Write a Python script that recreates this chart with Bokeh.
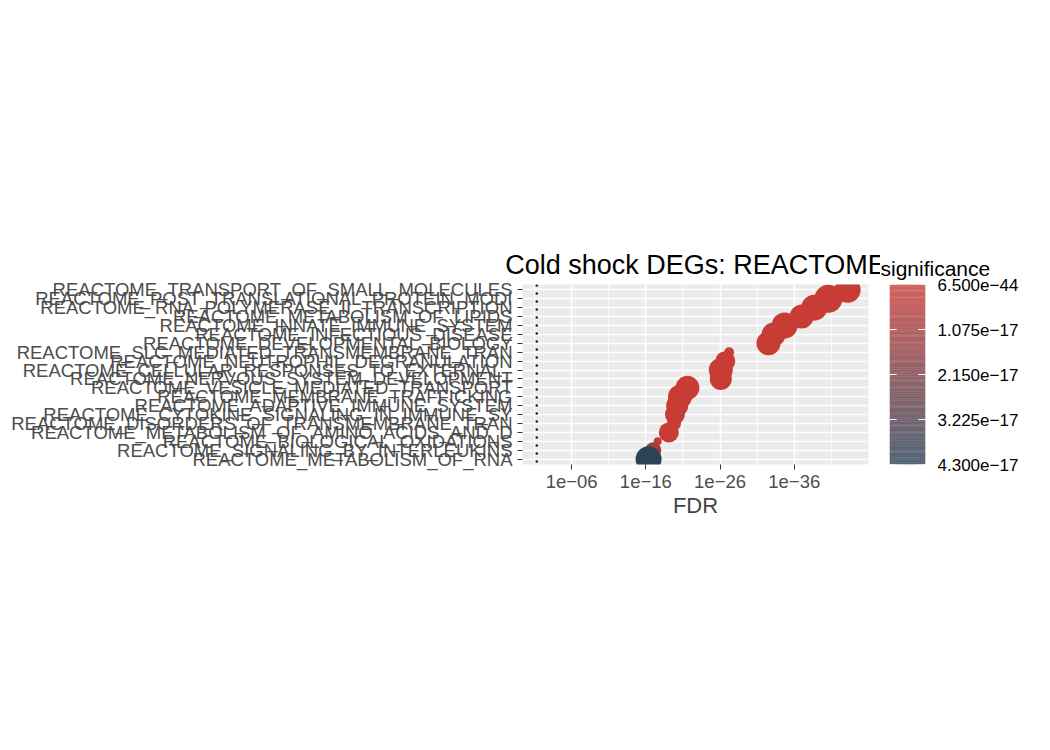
from bokeh.plotting import figure
from bokeh.models import (ColumnDataSource, Range1d, FixedTicker, Span, CustomJSTickFormatter)
from bokeh.layouts import row
from bokeh.transform import linear_cmap
from bokeh.embed import file_html
from bokeh.resources import INLINE
import math

# Data (top to bottom as in the chart)
pathways = [
    "REACTOME_TRANSPORT_OF_SMALL_MOLECULES",
    "REACTOME_POST_TRANSLATIONAL_PROTEIN_MODI",
    "REACTOME_RNA_POLYMERASE_II_TRANSCRIPTION",
    "REACTOME_METABOLISM_OF_LIPIDS",
    "REACTOME_INNATE_IMMUNE_SYSTEM",
    "REACTOME_INFECTIOUS_DISEASE",
    "REACTOME_DEVELOPMENTAL_BIOLOGY",
    "REACTOME_SLC_MEDIATED_TRANSMEMBRANE_TRAN",
    "REACTOME_NEUTROPHIL_DEGRANULATION",
    "REACTOME_CELLULAR_RESPONSES_TO_EXTERNAL_",
    "REACTOME_NERVOUS_SYSTEM_DEVELOPMENT",
    "REACTOME_VESICLE_MEDIATED_TRANSPORT",
    "REACTOME_MEMBRANE_TRAFFICKING",
    "REACTOME_ADAPTIVE_IMMUNE_SYSTEM",
    "REACTOME_CYTOKINE_SIGNALING_IN_IMMUNE_SY",
    "REACTOME_DISORDERS_OF_TRANSMEMBRANE_TRAN",
    "REACTOME_METABOLISM_OF_AMINO_ACIDS_AND_D",
    "REACTOME_BIOLOGICAL_OXIDATIONS",
    "REACTOME_SIGNALING_BY_INTERLEUKINS",
    "REACTOME_METABOLISM_OF_RNA",
]
fdr = [6.5e-44, 2.5e-41, 2e-39, 1e-37, 2e-35, 6e-34, 3e-33, 6e-28, 2e-27, 8e-27,
       8e-27, 2.5e-22, 2.5e-21, 6e-21, 1.2e-20, 1.6e-20, 8e-20, 2.5e-18, 1e-17, 4.3e-17]
gene_size = [26, 28, 26, 24, 26, 24, 24, 10, 20, 24, 22, 24, 24, 22, 20, 14, 20, 8, 16, 26]

x_ticks = [6, 16, 26, 36]
x_labels = ["1e\u221206", "1e\u221216", "1e\u221226", "1e\u221236"]
cb_ticks = [6.5e-44, 1.075e-17, 2.15e-17, 3.225e-17, 4.3e-17]
sig_low, sig_high = 6.5e-44, 4.3e-17

n = len(pathways)
ys = [n - i for i in range(n)]
xs = [-math.log10(v) for v in fdr]

# red -> blue-grey gradient
def grad(c1, c2, k=256):
    out = []
    for i in range(k):
        t = i / (k - 1)
        out.append("#%02x%02x%02x" % tuple(int(round(a + (b - a) * t)) for a, b in zip(c1, c2)))
    return out

red = (0xC8, 0x3C, 0x36)
blue = (0x2B, 0x42, 0x57)
palette = grad(red, blue)

src = ColumnDataSource(dict(x=xs, y=ys, fdr=fdr, s=gene_size))

FONT = "Liberation Sans"
p = figure(width=880, height=734, output_backend="svg", toolbar_location=None,
           x_range=Range1d(-0.62, 46.0), y_range=Range1d(0.4, n + 0.6),
           min_border_left=522, min_border_right=12, min_border_top=37, min_border_bottom=40,
           title="Cold shock DEGs: REACTOME")
p.title.text_font = FONT
p.title.text_font_size = "27px"
p.title.text_font_style = "normal"
p.title.text_color = "black"
p.title.align = "center"
p.background_fill_color = "#EBEBEB"
p.outline_line_color = None

p.xaxis.ticker = FixedTicker(ticks=x_ticks, minor_ticks=[1, 11, 21, 31, 41])
p.xaxis.major_label_overrides = {t: l for t, l in zip(x_ticks, x_labels)}
p.yaxis.ticker = FixedTicker(ticks=ys)
p.yaxis.major_label_overrides = {y: l for y, l in zip(ys, pathways)}
for ax in (p.xaxis, p.yaxis):
    ax.axis_line_color = None
    ax.major_tick_line_color = "#333333"
    ax.major_tick_in = 0
    ax.major_tick_out = 5
    ax.minor_tick_line_color = None
    ax.major_label_text_font = FONT
    ax.major_label_text_font_size = "18.5px"
    ax.major_label_text_color = "#4D4D4D"
p.xaxis.axis_label = "FDR"
p.xaxis.axis_label_text_font = FONT
p.xaxis.axis_label_text_font_size = "22px"
p.xaxis.axis_label_text_font_style = "normal"
p.xaxis.axis_label_standoff = 2

p.xgrid.grid_line_color = "white"
p.xgrid.grid_line_width = 1.6
p.xgrid.minor_grid_line_color = "white"
p.xgrid.minor_grid_line_width = 0.8
p.ygrid.grid_line_color = "white"
p.ygrid.grid_line_width = 1.6

p.add_layout(Span(location=-math.log10(0.05), dimension="height",
                  line_color="black", line_dash="2 6", line_width=2.2))

p.scatter("x", "y", source=src, size="s", line_color=None,
          fill_color=linear_cmap("fdr", palette, sig_low, sig_high))

# colour legend as a small second figure, low values on top
k = len(palette)
edges = [sig_low + (sig_high - sig_low) * i / k for i in range(k + 1)]
leg = figure(width=160, height=734, output_backend="svg", toolbar_location=None,
             x_range=Range1d(0, 1), y_range=Range1d(sig_high, sig_low),
             y_axis_location="right", min_border_left=9, min_border_right=115,
             min_border_top=284, min_border_bottom=270, title="significance")
leg.title.text_font = FONT
leg.title.text_font_size = "21px"
leg.title.text_font_style = "normal"
leg.title.text_color = "black"
leg.title.offset = -9
leg.quad(left=0, right=1, bottom=edges[:-1], top=edges[1:], fill_color=palette, line_color=None)
leg.segment(x0=[0] * 5 + [0.8] * 5, x1=[0.2] * 5 + [1] * 5, y0=cb_ticks * 2, y1=cb_ticks * 2,
            line_color="white", line_width=1.2)
leg.xaxis.visible = False
leg.grid.visible = False
leg.outline_line_color = None
leg.background_fill_color = None
leg.yaxis.ticker = FixedTicker(ticks=cb_ticks)
leg.yaxis.formatter = CustomJSTickFormatter(
    code="return tick.toExponential(3).replace('e-', 'e\u2212');")
leg.yaxis.axis_line_color = None
leg.yaxis.major_tick_line_color = None
leg.yaxis.minor_tick_line_color = None
leg.yaxis.major_label_standoff = 6
leg.yaxis.major_label_text_font = FONT
leg.yaxis.major_label_text_font_size = "17px"
leg.yaxis.major_label_text_color = "black"

open("out.html", "w").write(file_html(row(p, leg), INLINE))
